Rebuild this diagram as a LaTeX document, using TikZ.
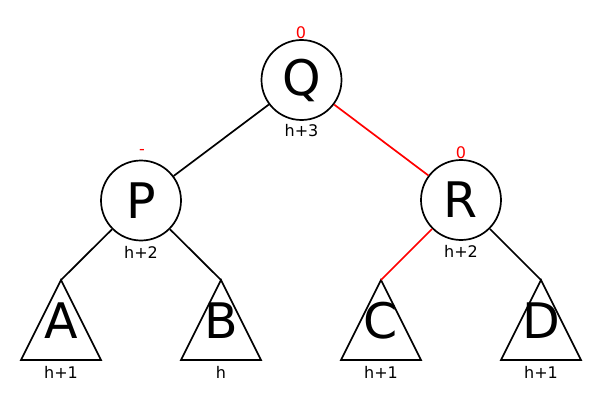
\documentclass[tikz,border=0pt]{standalone}
\usepackage{fontspec}
\setmainfont{DejaVu Sans}
\tikzset{
  knot/.style={draw, circle, line width=1.7pt, minimum size=80pt, inner sep=0pt,
    font=\fontsize{49}{49}\selectfont},
  subtree/.style={font=\fontsize{49}{49}\selectfont, inner sep=0pt},
  height/.style={font=\fontsize{16}{16}\selectfont, inner sep=0pt},
  balance/.style={font=\fontsize{16}{16}\selectfont, text=red, inner sep=0pt},
  edge/.style={line width=1.7pt},
}
\begin{document}
\begin{tikzpicture}[x=1pt, y=-1pt]
        \useasboundingbox (0,0) rectangle (602,401);

        % Inner nodes
        \node[knot] (Q) at (301.5,80) {Q};
        \node[knot] (P) at (141,200.5) {P};
        \node[knot] (R) at (461,200) {R};

        % Tips of the subtrees
        \coordinate (a) at (61,280);
        \coordinate (b) at (221,280);
        \coordinate (c) at (381,280);
        \coordinate (d) at (541,280);

        % Subtrees A, B, C, D
        \foreach \t in {a,b,c,d}
            \draw[edge, line join=miter] (\t) -- ++(-40,80) -- ++(80,0) -- cycle;
        \node[subtree] (A) at (61,321) {A};
        \node[subtree] (B) at (221,321) {B};
        \node[subtree] (C) at (381,321) {C};
        \node[subtree] (D) at (541,321) {D};

        % Edges
        \draw[edge] (Q) -- (P);
        \draw[edge, red] (Q) -- (R);
        \draw[edge] (P) -- (a);
        \draw[edge] (P) -- (b);
        \draw[edge, red] (R) -- (c);
        \draw[edge] (R) -- (d);

        % Heights
        \node[height] (hQ) at (301.5,131) {h+3};
        \node[height] (hP) at (141,252) {h+2};
        \node[height] (hR) at (461,251) {h+2};
        \node[height] (hA) at (61,372) {h+1};
        \node[height] (hB) at (221,372) {h};
        \node[height] (hC) at (381,372) {h+1};
        \node[height] (hD) at (541,372) {h+1};

        % Balance factors
        \node[balance] (bQ) at (301,32.5) {0};
        \node[balance] (bP) at (142,151.5) {-};
        \node[balance] (bR) at (461,152.5) {0};
    \end{tikzpicture}
\end{document}
